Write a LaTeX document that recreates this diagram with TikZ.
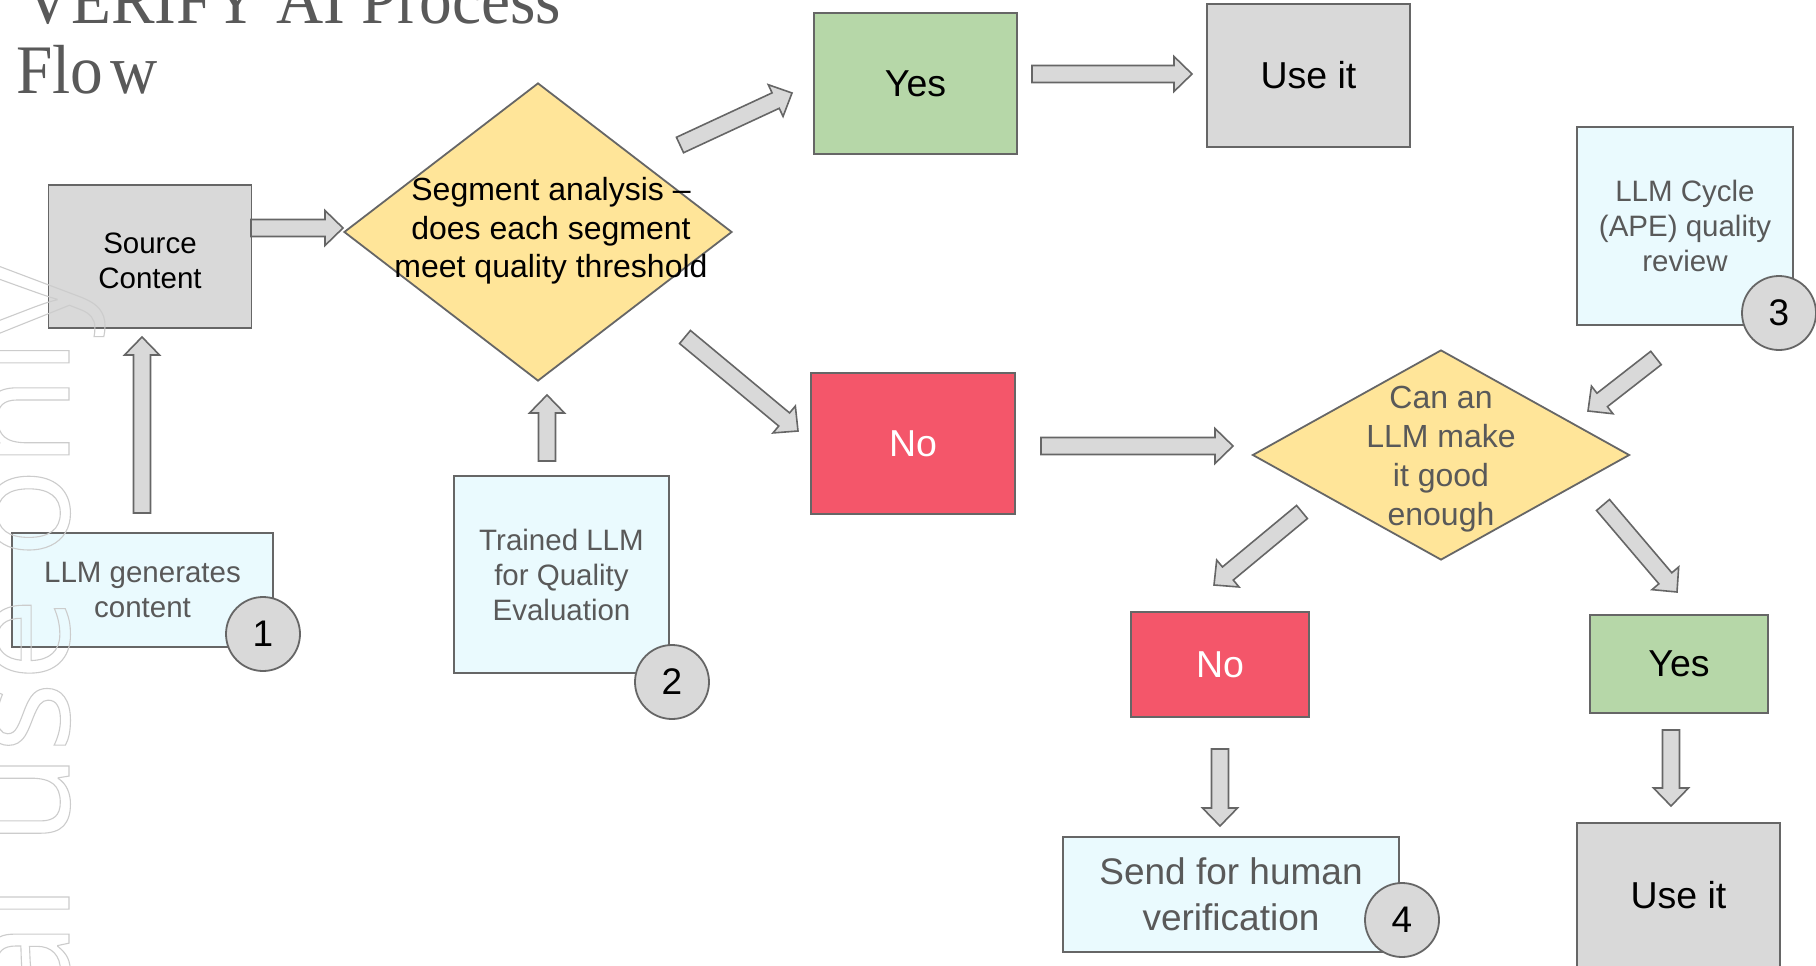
\documentclass[tikz,border=0pt]{standalone}
\usepackage{fontspec}
\setmainfont{Liberation Sans}
\newfontfamily\titlefont[FakeStretch=0.94]{Liberation Serif}
\newfontfamily\wmfont{Open Sans}
\usetikzlibrary{calc,shapes.geometric}
\definecolor{bord}{HTML}{666666}
\definecolor{boxgray}{HTML}{D9D9D9}
\definecolor{cyanbox}{HTML}{EAFAFE}
\definecolor{greenbox}{HTML}{B6D7A8}
\definecolor{redbox}{HTML}{F4566A}
\definecolor{yellowd}{HTML}{FFE599}
\definecolor{txtgray}{HTML}{595959}
\newcommand\fsA{\fontsize{29.5}{35}\selectfont}
\newcommand\fsB{\fontsize{37.5}{44}\selectfont}
\newcommand\fsS{\fontsize{37}{46}\selectfont}
\newcommand\fsC{\fontsize{37}{44}\selectfont}
\newcommand\fsD{\fontsize{32}{38.3}\selectfont}
\newcommand\fsE{\fontsize{32}{39}\selectfont}
\tikzset{
  box/.style={draw=bord, line width=1.8pt, rectangle, inner sep=0pt, align=center},
  graybox/.style={box, fill=boxgray, text=black},
  cyanbx/.style={box, fill=cyanbox, text=txtgray},
  greenbx/.style={box, fill=greenbox, text=black, font=\fsB},
  redbx/.style={box, fill=redbox, text=white, font=\fsB},
  circ/.style={circle, draw=bord, fill=boxgray, line width=1.8pt, minimum size=74pt, inner sep=0pt, font=\fsC, text=black},
  diam/.style={diamond, draw=bord, fill=yellowd, line width=1.8pt, inner sep=0pt},
  arrowshape/.style={draw=bord, fill=boxgray, line width=1.6pt, line join=miter},
}
\newcommand{\barrow}[2]{%
  \coordinate (bhead) at ($(#2)!18pt!(#1)$);
  \draw[arrowshape] ($(#1)!8.5pt!90:(#2)$) -- ($(bhead)!8.5pt!90:(#2)$) -- ($(bhead)!17.5pt!90:(#2)$) -- (#2) -- ($(bhead)!17.5pt!-90:(#2)$) -- ($(bhead)!8.5pt!-90:(#2)$) -- ($(#1)!8.5pt!-90:(#2)$) -- cycle;}
\begin{document}
\begin{tikzpicture}[x=1pt,y=-1pt]
\useasboundingbox (0,0) rectangle (1816,966);
\fill[white] (0,0) rectangle (1816,966);

% title
\node[anchor=base west, inner sep=0pt, font=\titlefont\fontsize{69.5}{70}\selectfont, text=txtgray] (t1) at (24,24) {VERIFY AI Process};
\node[anchor=base west, inner sep=0pt, font=\titlefont\fontsize{69.5}{70}\selectfont, text=txtgray] (t2) at (16,93) {Flo\kern7pt w};

% boxes
\node[graybox, minimum width=203pt, minimum height=142.5pt] (src) at (150,256.5) {};
\node[font=\fsA, align=center, inner sep=0pt, text=black] (srct) at (150,260.5) {Source\\Content};
\node[greenbx, minimum width=203pt, minimum height=141pt] (yes1) at (915.5,83.4) {Yes};
\node[graybox, font=\fsB, minimum width=203pt, minimum height=143pt] (use1) at (1308.5,75.5) {Use it};
\node[redbx, minimum width=204pt, minimum height=141pt] (no1) at (913,443.5) {No};
\node[cyanbx, font=\fsA, minimum width=261pt, minimum height=114pt] (gen) at (142.5,590) {LLM generates\\content};
\node[cyanbx, font=\fsA, minimum width=215pt, minimum height=197pt] (train) at (561.5,574.5) {Trained LLM\\for Quality\\Evaluation};
\node[cyanbx, font=\fsA, minimum width=216pt, minimum height=198pt] (cycle) at (1685,226) {LLM Cycle\\(APE) quality\\review};
\node[redbx, minimum width=178pt, minimum height=105pt] (no2) at (1220,664.5) {No};
\node[greenbx, minimum width=178pt, minimum height=98pt] (yes2) at (1679,664) {Yes};
\node[cyanbx, font=\fsS, minimum width=336pt, minimum height=115pt] (send) at (1231,894.5) {Send for human\\verification};
\node[graybox, font=\fsB, minimum width=203pt, minimum height=145pt] (use2) at (1678.5,895.5) {Use it};

% diamonds
\node[diam, minimum width=388pt, minimum height=298pt] (d1) at (538,232) {};
\node[font=\fsD, align=center, text=black, inner sep=0pt] (d1t) at (551,231) {Segment analysis –\\does each segment\\meet quality threshold};
\node[diam, minimum width=377pt, minimum height=210pt] (d2) at (1441,455) {};
\node[font=\fsE, align=center, text=txtgray, inner sep=0pt] (d2t) at (1441,459) {Can an\\LLM make\\it good\\enough};

% number circles
\node[circ] (c1) at (263,634) {1};
\node[circ] (c2) at (672,682) {2};
\node[circ] (c3) at (1779,313) {3};
\node[circ] (c4) at (1402,920) {4};

% arrow end points
\coordinate (a1s) at (251,228);   \coordinate (a1e) at (343,228);
\coordinate (a2s) at (142,513);   \coordinate (a2e) at (142,337);
\coordinate (a3s) at (547,461);   \coordinate (a3e) at (547,395);
\coordinate (a4s) at (680,145);   \coordinate (a4e) at (792,93);
\coordinate (a5s) at (685,337);   \coordinate (a5e) at (798,431);
\coordinate (a6s) at (1041,446);  \coordinate (a6e) at (1233,446);
\coordinate (a7s) at (1656,358);  \coordinate (a7e) at (1588,411);
\coordinate (a8s) at (1302,512);  \coordinate (a8e) at (1214,585);
\coordinate (a9s) at (1603,505);  \coordinate (a9e) at (1677,592);
\coordinate (a10s) at (1220,749); \coordinate (a10e) at (1220,826);
\coordinate (a11s) at (1671,730); \coordinate (a11e) at (1671,806);
\coordinate (a12s) at (1032,74);  \coordinate (a12e) at (1192,74);

\barrow{a1s}{a1e}
\barrow{a2s}{a2e}
\barrow{a3s}{a3e}
\barrow{a4s}{a4e}
\barrow{a5s}{a5e}
\barrow{a6s}{a6e}
\barrow{a7s}{a7e}
\barrow{a8s}{a8e}
\barrow{a9s}{a9e}
\barrow{a10s}{a10e}
\barrow{a11s}{a11e}
\barrow{a12s}{a12e}

% watermark
\node[rotate=90, anchor=base east, inner sep=0pt, font=\wmfont\fontsize{150}{150}\selectfont, text=gray!40] (wm) at (69,262) {\special{pdf:literal direct 1 Tr 1.1 w}Internal use only\special{pdf:literal direct 0 Tr}};
\end{tikzpicture}
\end{document}
